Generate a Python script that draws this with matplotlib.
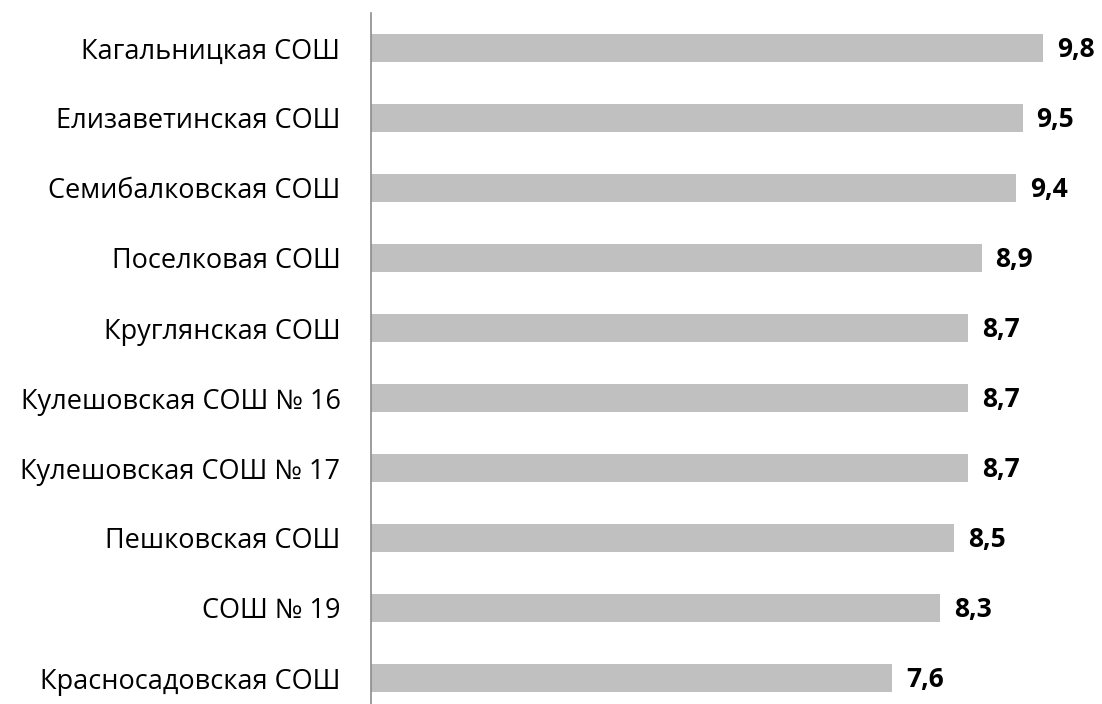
import numpy as np
import matplotlib.pyplot as plt

plt.rcParams['font.family'] = ['Open Sans', 'DejaVu Sans']

schools = ['Кагальницкая СОШ', 'Елизаветинская СОШ', 'Семибалковская СОШ',
           'Поселковая СОШ', 'Круглянская СОШ', 'Кулешовская СОШ № 16',
           'Кулешовская СОШ № 17', 'Пешковская СОШ', 'СОШ № 19',
           'Красносадовская СОШ']
scores = [9.8, 9.5, 9.4, 8.9, 8.7, 8.7, 8.7, 8.5, 8.3, 7.6]

W, H = 1102, 704
fig = plt.figure(figsize=(W / 100, H / 100), dpi=100)
# axes: left edge at x=371 px, 0..10 spans 686 px, top at 13 px, 700 px tall
ax = fig.add_axes([371 / W, (H - 713) / H, 686 / W, 700 / H])

y = np.arange(len(schools))
ax.barh(y, scores, height=0.4, color='#c0c0c0')
ax.set_xlim(0, 10)
ax.set_ylim(len(schools) - 0.5, -0.5)

for yi, v in zip(y, scores):
    ax.annotate(f'{v:.1f}'.replace('.', ','), (v, yi), xytext=(10, -1),
                textcoords='offset points', va='center', ha='left',
                fontsize=19, fontweight='bold', color='black',
                annotation_clip=False)

ax.set_yticks(y)
ax.set_yticklabels(schools, fontsize=19.5)
ax.tick_params(axis='y', length=0, pad=22)
ax.set_xticks([])
for s in ['top', 'right', 'bottom']:
    ax.spines[s].set_visible(False)
ax.spines['left'].set_color('#8c8c8c')
ax.spines['left'].set_linewidth(1.2)

fig.savefig('out.png', dpi=100)
